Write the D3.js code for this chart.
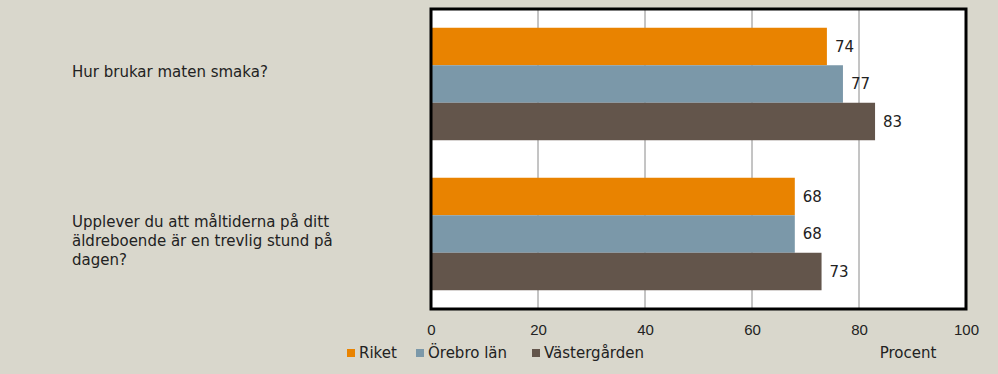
<!DOCTYPE html>
<html lang="sv">
<head>
<meta charset="UTF-8">
<title>Måltider</title>
<style>
    body { margin: 0; background: #d9d7cc; }
    svg { display: block; font-family: "DejaVu Sans", sans-serif; }
    .tick text { font-size: 15px; fill: #222; }
</style>
</head>
<body>
<svg id="chart" width="998" height="374"></svg>
<script src="https://cdnjs.cloudflare.com/ajax/libs/d3/7.8.5/d3.min.js"></script>
<script>
    // data
    const categories = ["Hur brukar maten smaka?", "Upplever du att måltiderna på ditt äldreboende är en trevlig stund på dagen?"];
    const categoryLines = [["Hur brukar maten smaka?"], ["Upplever du att måltiderna på ditt", "äldreboende är en trevlig stund på", "dagen?"]];
    const seriesNames = ["Riket", "Örebro län", "Västergården"];
    const riket = [74, 68];
    const orebro = [77, 68];
    const vastergarden = [83, 73];
    const xTicks = [0, 20, 40, 60, 80, 100];
    const colors = ["#e98300", "#7b98a9", "#63554b"];

    const series = [riket, orebro, vastergarden];

    const svg = d3.select("#chart");
    const plot = { left: 431, right: 966, top: 9, bottom: 309 };

    const x = d3.scaleLinear().domain([0, 100]).range([plot.left, plot.right]);
    const y0 = d3.scaleBand().domain(categories).range([plot.top, plot.bottom])
        .paddingInner(0.25).paddingOuter(0.125);
    const y1 = d3.scaleBand().domain(seriesNames).range([0, y0.bandwidth()]);

    // plot background
    svg.append("rect")
        .attr("x", plot.left).attr("y", plot.top)
        .attr("width", plot.right - plot.left).attr("height", plot.bottom - plot.top)
        .attr("fill", "#fff");

    // gridlines
    svg.append("g")
        .selectAll("line")
        .data(xTicks.slice(1, -1))
        .join("line")
        .attr("x1", d => x(d)).attr("x2", d => x(d))
        .attr("y1", plot.top).attr("y2", plot.bottom)
        .attr("stroke", "#8a8a8a").attr("stroke-width", 1);

    // bars
    const groups = svg.append("g")
        .selectAll("g")
        .data(categories)
        .join("g")
        .attr("transform", d => `translate(0,${y0(d)})`);

    groups.selectAll("rect")
        .data((c, i) => seriesNames.map((s, j) => ({ s, v: series[j][i], j })))
        .join("rect")
        .attr("x", x(0))
        .attr("y", d => y1(d.s))
        .attr("width", d => x(d.v) - x(0))
        .attr("height", y1.bandwidth())
        .attr("fill", d => colors[d.j]);

    groups.selectAll("text")
        .data((c, i) => seriesNames.map((s, j) => ({ s, v: series[j][i], j })))
        .join("text")
        .attr("x", d => x(d.v) + 8)
        .attr("y", d => y1(d.s) + y1.bandwidth() / 2)
        .attr("dy", "0.35em")
        .attr("font-size", 15)
        .attr("fill", "#222")
        .text(d => d.v);

    // frame
    svg.append("rect")
        .attr("x", plot.left).attr("y", plot.top)
        .attr("width", plot.right - plot.left).attr("height", plot.bottom - plot.top)
        .attr("fill", "none").attr("stroke", "#000").attr("stroke-width", 3);

    // x axis
    const xAxis = svg.append("g")
        .attr("transform", `translate(0,${plot.bottom})`)
        .call(d3.axisBottom(x).tickValues(xTicks).tickSize(0).tickPadding(15));
    xAxis.select(".domain").remove();

    // category labels, top aligned with the middle bar
    svg.append("g")
        .selectAll("text")
        .data(categories)
        .join("text")
        .attr("x", 72)
        .attr("y", d => y0(d) + y1(seriesNames[1]) + 12)
        .attr("font-size", 15)
        .attr("fill", "#222")
        .each(function (d, i) {
            d3.select(this).selectAll("tspan")
                .data(categoryLines[i])
                .join("tspan")
                .attr("x", 72)
                .attr("dy", (t, k) => k === 0 ? 0 : 19)
                .text(t => t);
        });

    // legend
    const legendX = [347, 416, 532];
    const legend = svg.append("g")
        .selectAll("g")
        .data(seriesNames)
        .join("g")
        .attr("transform", (d, i) => `translate(${legendX[i]},353)`);
    legend.append("rect")
        .attr("x", 0).attr("y", -4).attr("width", 8).attr("height", 8)
        .attr("fill", (d, i) => colors[i]);
    legend.append("text")
        .attr("x", 12).attr("dy", "0.35em")
        .attr("font-size", 15).attr("fill", "#222")
        .text(d => d);

    svg.append("text")
        .attr("x", 908).attr("y", 353).attr("dy", "0.35em")
        .attr("text-anchor", "middle")
        .attr("font-size", 15).attr("fill", "#222")
        .text("Procent");
</script>
</body>
</html>
